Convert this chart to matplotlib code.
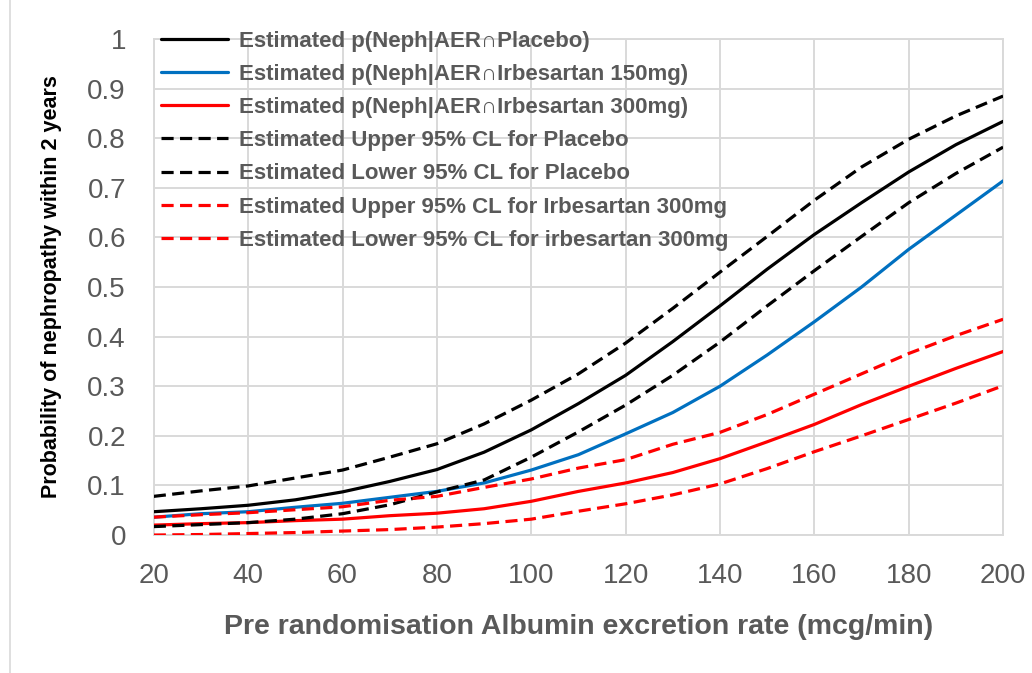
import numpy as np
import matplotlib.pyplot as plt
from matplotlib.lines import Line2D

# albumin excretion rate (mcg/min)
aer = [20, 30, 40, 50, 60, 70, 80, 90, 100, 110, 120, 130, 140, 150, 160, 170, 180, 190, 200]

placebo = [0.047, 0.053, 0.060, 0.071, 0.087, 0.108, 0.132, 0.167, 0.212, 0.265,
           0.322, 0.390, 0.462, 0.536, 0.606, 0.670, 0.732, 0.787, 0.834]
irb150 = [0.036, 0.043, 0.047, 0.056, 0.064, 0.076, 0.088, 0.105, 0.131, 0.162,
          0.204, 0.247, 0.300, 0.363, 0.430, 0.500, 0.576, 0.645, 0.714]
irb300 = [0.020, 0.023, 0.025, 0.029, 0.032, 0.039, 0.044, 0.053, 0.068, 0.088,
          0.105, 0.126, 0.154, 0.188, 0.223, 0.263, 0.300, 0.336, 0.370]
placebo_up = [0.078, 0.089, 0.099, 0.115, 0.131, 0.157, 0.184, 0.224, 0.272, 0.325,
              0.387, 0.457, 0.530, 0.602, 0.675, 0.742, 0.798, 0.845, 0.885]
placebo_lo = [0.017, 0.021, 0.025, 0.032, 0.043, 0.061, 0.087, 0.111, 0.157, 0.208,
              0.262, 0.322, 0.389, 0.462, 0.533, 0.602, 0.670, 0.729, 0.782]
irb300_up = [0.036, 0.041, 0.045, 0.051, 0.057, 0.070, 0.078, 0.096, 0.113, 0.135,
             0.152, 0.183, 0.207, 0.243, 0.284, 0.325, 0.366, 0.402, 0.435]
irb300_lo = [0.000, 0.001, 0.003, 0.005, 0.008, 0.011, 0.016, 0.023, 0.032, 0.048,
             0.063, 0.081, 0.103, 0.134, 0.168, 0.200, 0.233, 0.266, 0.301]

labels = [
    'Estimated p(Neph|AER\u2229Placebo)',
    'Estimated p(Neph|AER\u2229Irbesartan 150mg)',
    'Estimated p(Neph|AER\u2229Irbesartan 300mg)',
    'Estimated Upper 95% CL for Placebo',
    'Estimated Lower 95% CL for Placebo',
    'Estimated Upper 95% CL for Irbesartan 300mg',
    'Estimated Lower 95% CL for irbesartan 300mg',
]

plt.rcParams['font.family'] = ['Liberation Sans', 'DejaVu Sans']

grey = '#595959'
fig = plt.figure(figsize=(10.32, 6.73), dpi=100)
ax = fig.add_axes([0.149, 0.205, 0.823, 0.737])

dash = (0, (3.8, 2.0))
series = [
    (placebo, 'black', '-'),
    (irb150, '#0070c0', '-'),
    (irb300, '#ff0000', '-'),
    (placebo_up, 'black', dash),
    (placebo_lo, 'black', dash),
    (irb300_up, '#ff0000', dash),
    (irb300_lo, '#ff0000', dash),
]
for (vals, col, ls), lab in zip(series, labels):
    ax.plot(aer, vals, color=col, linestyle=ls, linewidth=2.3, label=lab,
            solid_capstyle='round', zorder=3)

ax.set_xlim(20, 200)
ax.set_ylim(0, 1)
ax.set_xticks(np.arange(20, 201, 20))
ax.set_yticks(np.arange(0, 1.01, 0.1))
ax.set_yticklabels(['0'] + ['%.1f' % v for v in np.arange(0.1, 0.95, 0.1)] + ['1'])
ax.grid(True, color='#d9d9d9', linewidth=1.4, zorder=0)
ax.set_axisbelow(True)
for s in ax.spines.values():
    s.set_color('#d9d9d9')
    s.set_linewidth(1.4)
ax.tick_params(length=0, labelsize=20, colors=grey)
ax.tick_params(axis='y', pad=20)
ax.tick_params(axis='x', pad=20)

ax.set_xlabel('Pre randomisation Albumin excretion rate (mcg/min)', fontsize=20.5,
              fontweight='bold', color=grey, labelpad=18)
ax.set_ylabel('Probability of nephropathy within 2 years', fontsize=15.5,
              fontweight='bold', color='black', labelpad=18)

leg = ax.legend(loc='upper left', bbox_to_anchor=(-0.002, 1.035), frameon=False,
                fontsize=16, handlelength=3.0, handletextpad=0.5,
                labelspacing=0.55, borderaxespad=0)
for t in leg.get_texts():
    t.set_color(grey)
    t.set_fontweight('bold')

# outer chart border on the left
fig.add_artist(Line2D([10 / 1032, 10 / 1032], [0, 1], color='#d9d9d9', linewidth=1.2))

fig.savefig('out.png', dpi=100)
